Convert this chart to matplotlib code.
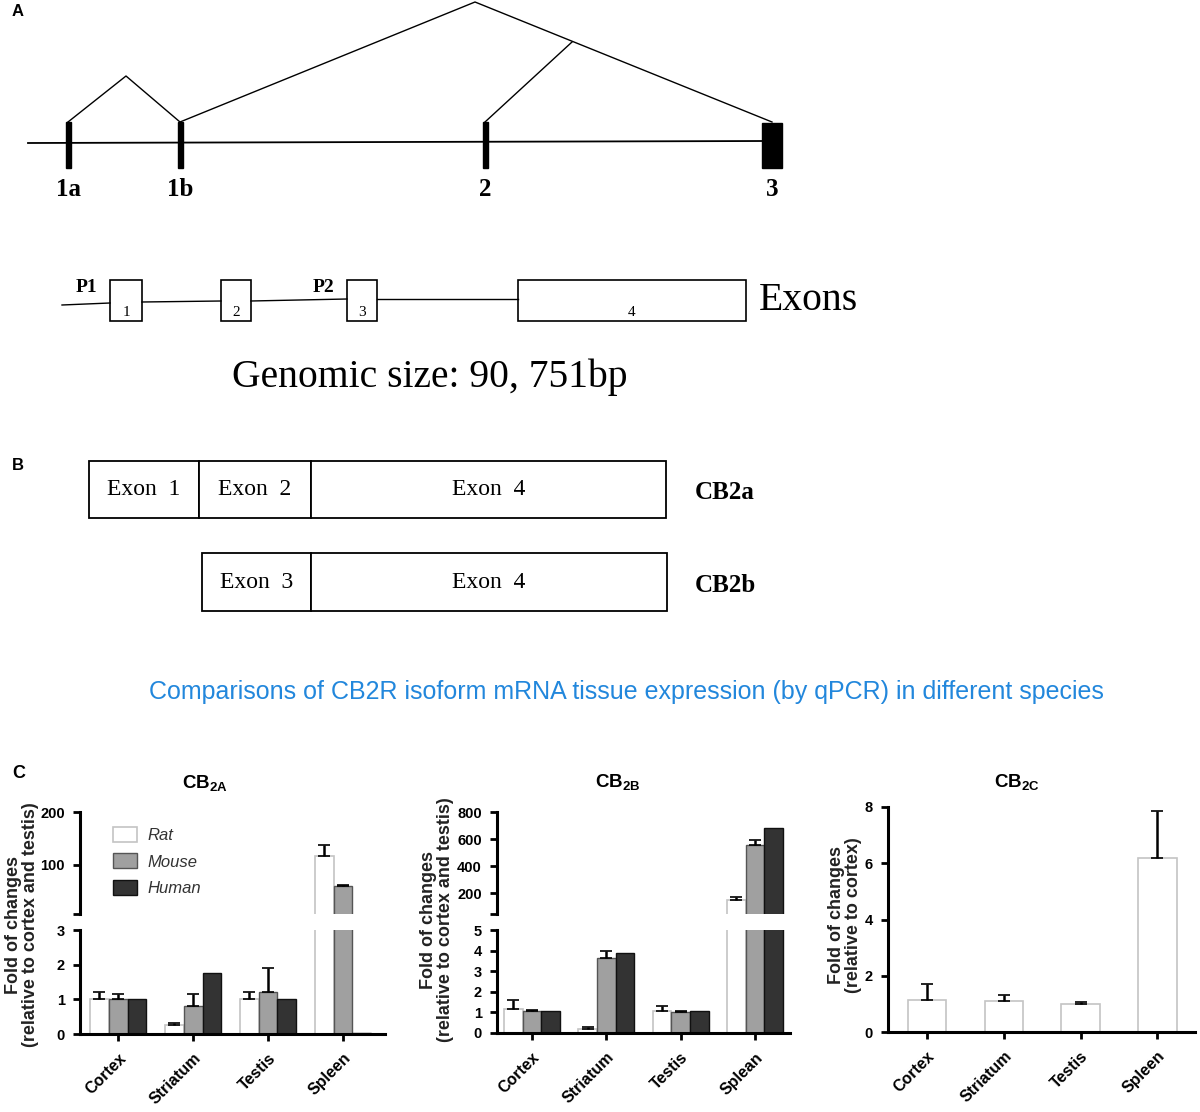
import numpy as np
import matplotlib.pyplot as plt
from matplotlib.patches import Rectangle, Patch

plt.rcParams['font.family'] = ['Liberation Sans', 'DejaVu Sans']
plt.rcParams['mathtext.fontset'] = 'custom'
plt.rcParams['mathtext.rm'] = 'Liberation Sans:bold'
plt.rcParams['mathtext.bf'] = 'Liberation Sans:bold'

W, H = 1200, 1112

# ---- panel C values ----
tissues = ['Cortex', 'Striatum', 'Testis', 'Spleen']
tissues_2b = ['Cortex', 'Striatum', 'Testis', 'Splean']
species = ['Rat', 'Mouse', 'Human']

cb2a_rat = [1.0, 0.25, 1.0, 117]
cb2a_rat_err = [0.2, 0.08, 0.2, 20]
cb2a_mouse = [1.0, 0.82, 1.2, 61]
cb2a_mouse_err = [0.15, 0.33, 0.7, 0.5]
cb2a_human = [1.0, 1.75, 1.0, 0.03]

cb2b_rat = [1.15, 0.2, 1.05, 148]
cb2b_rat_err = [0.45, 0.1, 0.25, 20]
cb2b_mouse = [1.05, 3.65, 1.0, 555]
cb2b_mouse_err = [0.05, 0.35, 0.05, 35]
cb2b_human = [1.05, 3.9, 1.05, 680]

cb2c_rat = [1.15, 1.1, 1.0, 6.2]
cb2c_rat_err = [0.55, 0.2, 0.05, 1.65]

# ---- diagram layout (pixels) ----
gene_exons = ['1a', '1b', '2']
gene_exon_x = [68, 180, 485]
exon_boxes = [(110, 142), (221, 251), (347, 377), (518, 746)]

fig = plt.figure(figsize=(12, 11.12), dpi=100)

# full-figure axes for panels A and B
ax0 = fig.add_axes([0, 0, 1, 1])
ax0.set_xlim(0, W)
ax0.set_ylim(H, 0)
ax0.axis('off')

serif = ['Liberation Serif', 'DejaVu Serif']

ax0.text(12, 12, 'A', fontsize=12, fontweight='bold', va='center')
ax0.text(12, 466, 'B', fontsize=12, fontweight='bold', va='center')
ax0.text(12, 774, 'C', fontsize=13, fontweight='bold', va='center')

# panel A: gene with exons
ax0.plot([28, 765], [143, 141], color='black', lw=1.3)
for lab, x in zip(gene_exons, gene_exon_x):
    ax0.add_patch(Rectangle((x - 2.5, 122), 5, 46, color='black'))
    ax0.text(x, 190, lab, family=serif, fontsize=18, fontweight='bold',
             ha='center', va='center')
ax0.add_patch(Rectangle((762, 123), 20, 45, color='black'))
ax0.text(772, 190, '3', family=serif, fontsize=18, fontweight='bold',
         ha='center', va='center')
ax0.plot([68, 126, 180], [122, 76, 122], color='black', lw=1.0)
ax0.plot([180, 475, 772], [122, 2, 122], color='black', lw=1.0)
ax0.plot([485, 572], [122, 42], color='black', lw=1.0)

# exon structure
ax0.plot([62, 110], [305, 303], color='black', lw=1.0)
ax0.plot([142, 221], [302, 301], color='black', lw=1.0)
ax0.plot([251, 347], [301, 299], color='black', lw=1.0)
ax0.plot([377, 518], [299, 299], color='black', lw=1.0)
for i, (x0, x1) in enumerate(exon_boxes):
    ax0.add_patch(Rectangle((x0, 280), x1 - x0, 41, facecolor='white',
                            edgecolor='black', lw=1.2))
    ax0.text((x0 + x1) / 2, 312, str(i + 1), family=serif, fontsize=11,
             ha='center', va='center')
ax0.text(86, 288, 'P1', family=serif, fontsize=14, fontweight='bold',
         ha='center', va='center')
ax0.text(324, 288, 'P2', family=serif, fontsize=14, fontweight='bold',
         ha='center', va='center')
ax0.text(759, 300, 'Exons', family=serif, fontsize=28.5, ha='left', va='center')
ax0.text(430, 377, 'Genomic size: 90, 751bp', family=serif, fontsize=28.5,
         ha='center', va='center')

# panel B: isoforms
isoform_rows = [
    ('CB2a', 461, 518, [(89, 199, 'Exon  1'), (199, 311, 'Exon  2'), (311, 666, 'Exon  4')]),
    ('CB2b', 553, 611, [(202, 311, 'Exon  3'), (311, 667, 'Exon  4')]),
]
for name, y0, y1, boxes in isoform_rows:
    for x0, x1, lab in boxes:
        ax0.add_patch(Rectangle((x0, y0), x1 - x0, y1 - y0, facecolor='white',
                                edgecolor='black', lw=1.3))
        ax0.text((x0 + x1) / 2, (y0 + y1) / 2, lab, family=serif, fontsize=17,
                 ha='center', va='center')
    ax0.text(695, (y0 + y1) / 2 + 3, name, family=serif, fontsize=18,
             fontweight='bold', ha='left', va='center')

ax0.text(626, 692, 'Comparisons of CB2R isoform mRNA tissue expression (by qPCR) in different species',
         color='#2287dc', fontsize=18, ha='center', va='center')


# ---- panel C: bar charts ----
def frac(x0, y0, x1, y1):
    return [x0 / W, 1 - y1 / H, (x1 - x0) / W, (y1 - y0) / H]


rat_style = dict(facecolor='white', edgecolor='#c4c4c4', lw=1.2)
mouse_style = dict(facecolor='#a0a0a0', edgecolor='#555555', lw=1.0)
human_style = dict(facecolor='#333333', edgecolor='#111111', lw=1.0)


def style_axis(ax, bottom=True):
    for s in ['top', 'right']:
        ax.spines[s].set_visible(False)
    ax.spines['left'].set_linewidth(2.2)
    ax.spines['bottom'].set_linewidth(2.2)
    ax.tick_params(axis='y', width=2, length=5, labelsize=10.5, pad=6)
    ax.tick_params(axis='x', width=2, length=5, pad=7)
    for t in ax.get_yticklabels():
        t.set_fontweight('bold')
    if not bottom:
        ax.spines['bottom'].set_visible(False)
        ax.tick_params(axis='x', bottom=False, labelbottom=False)


def draw_bars(ax, series, errs, styles, width):
    n = len(series)
    x = np.arange(4)
    offsets = (np.arange(n) - (n - 1) / 2) * width
    for vals, err, st, off in zip(series, errs, styles, offsets):
        ax.bar(x + off, vals, width, **st, zorder=2)
        if err is not None:
            zeros = np.zeros(len(err))
            eb = ax.errorbar(x + off, vals, yerr=[zeros, err], fmt='none',
                             ecolor='black', elinewidth=1.8, capsize=4,
                             capthick=1.2, zorder=3)
            for cap in eb[1]:
                cap.set_color('#9a9a9a')


def xlabels(ax, labels):
    ax.set_xticks(np.arange(4))
    ax.set_xticklabels(labels, rotation=45, ha='right', rotation_mode='anchor',
                       fontweight='bold', fontsize=11.5)


ylab_kw = dict(rotation=90, fontsize=13, fontweight='bold', ha='center',
               va='center', multialignment='center', color='#222222',
               linespacing=1.05)

# CB2A
series = [cb2a_rat, cb2a_mouse, cb2a_human]
errs = [cb2a_rat_err, cb2a_mouse_err, None]
styles = [rat_style, mouse_style, human_style]
top = fig.add_axes(frac(80, 812, 385, 914))
bot = fig.add_axes(frac(80, 930, 385, 1034))
for ax in (top, bot):
    draw_bars(ax, series, errs, styles, 0.25)
    ax.set_xlim(-0.51, 3.56)
top.set_ylim(7.5, 200)
top.set_yticks([7.5, 100, 200])
top.set_yticklabels(['', '100', '200'])
bot.set_ylim(0, 3)
bot.set_yticks([0, 1, 2, 3])
style_axis(top, bottom=False)
style_axis(bot)
xlabels(bot, tissues)
handles = [Patch(**s) for s in styles]
leg = top.legend(handles, species, loc='upper left', bbox_to_anchor=(0.108, 0.85),
                 frameon=False, borderpad=0, borderaxespad=0,
                 handlelength=1.45, handleheight=1.0,
                 labelspacing=0.6, handletextpad=0.6,
                 prop=dict(style='italic', size=12))
for t in leg.get_texts():
    t.set_color('#333333')
ax0.text(205, 784, r'CB$_{\mathregular{2A}}$', fontsize=13.5, fontweight='bold',
         ha='center', va='center')
ax0.text(22, 925, 'Fold of changes\n(relative to cortex and testis)', **ylab_kw)

# CB2B
series = [cb2b_rat, cb2b_mouse, cb2b_human]
errs = [cb2b_rat_err, cb2b_mouse_err, None]
top = fig.add_axes(frac(497, 812, 790, 914))
bot = fig.add_axes(frac(497, 930, 790, 1033))
for ax in (top, bot):
    draw_bars(ax, series, errs, styles, 0.25)
    ax.set_xlim(-0.47, 3.47)
top.set_ylim(45, 800)
top.set_yticks([45, 200, 400, 600, 800])
top.set_yticklabels(['', '200', '400', '600', '800'])
bot.set_ylim(0, 5)
bot.set_yticks([0, 1, 2, 3, 4, 5])
style_axis(top, bottom=False)
style_axis(bot)
xlabels(bot, tissues_2b)
ax0.text(618, 783, r'CB$_{\mathregular{2B}}$', fontsize=13.5, fontweight='bold',
         ha='center', va='center')
ax0.text(437, 920, 'Fold of changes\n(relative to cortex and testis)', **ylab_kw)

# CB2C
ax = fig.add_axes(frac(888, 807, 1195, 1032))
draw_bars(ax, [cb2c_rat], [cb2c_rat_err], [rat_style], 0.5)
ax.set_xlim(-0.51, 3.49)
ax.set_ylim(0, 8)
ax.set_yticks([0, 2, 4, 6, 8])
style_axis(ax)
xlabels(ax, tissues)
ax0.text(1017, 783, r'CB$_{\mathregular{2C}}$', fontsize=13.5, fontweight='bold',
         ha='center', va='center')
ax0.text(845, 915, 'Fold of changes\n(relative to cortex)', **ylab_kw)

fig.savefig('out.png', dpi=100)
